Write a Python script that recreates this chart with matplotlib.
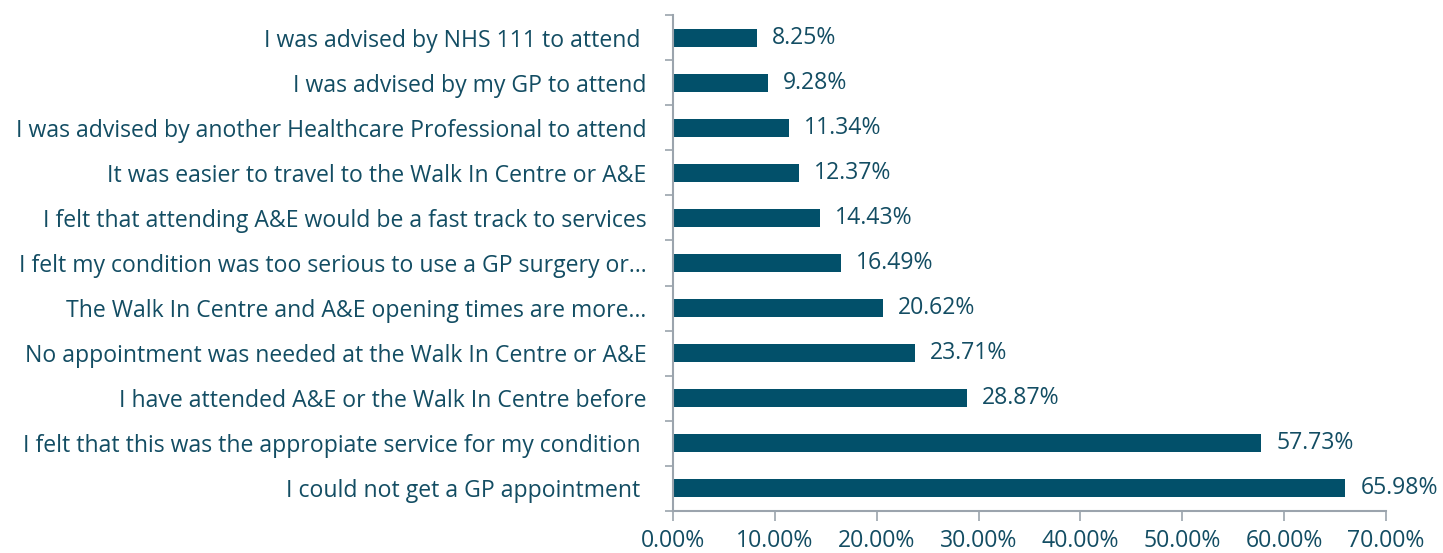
import matplotlib
matplotlib.use("Agg")
import matplotlib.pyplot as plt
import numpy as np
from matplotlib.ticker import FixedLocator, FuncFormatter

categories = [
    "I could not get a GP appointment ",
    "I felt that this was the appropiate service for my condition ",
    "I have attended A&E or the Walk In Centre before",
    "No appointment was needed at the Walk In Centre or A&E",
    "The Walk In Centre and A&E opening times are more\u2026",
    "I felt my condition was too serious to use a GP surgery or\u2026",
    "I felt that attending A&E would be a fast track to services",
    "It was easier to travel to the Walk In Centre or A&E",
    "I was advised by another Healthcare Professional to attend",
    "I was advised by my GP to attend",
    "I was advised by NHS 111 to attend ",
]
values = [65.98, 57.73, 28.87, 23.71, 20.62, 16.49, 14.43, 12.37, 11.34, 9.28, 8.25]
xticks = [0, 10, 20, 30, 40, 50, 60, 70]

bar_color = "#02506a"
text_color = "#134d63"
axis_color = "#9ba4ad"
fs = 16.6

plt.rcParams['font.family'] = ['Open Sans', 'DejaVu Sans']

fig = plt.figure(figsize=(14.43, 5.53), dpi=100)
ax = fig.add_axes([0.4664, 0.0760, 0.9605 - 0.4664, 0.9729 - 0.0760])

y = np.arange(len(categories))
ax.barh(y, values, height=0.4, color=bar_color)
ax.set_xlim(0, 70)
ax.set_ylim(-0.5, len(categories) - 0.5)

for yi, v in zip(y, values):
    ax.annotate(f"{v:.2f}%", xy=(v, yi), xytext=(11, 0), textcoords="offset points",
                va="center", ha="left", color=text_color, fontsize=fs)

ax.xaxis.set_major_locator(FixedLocator(xticks))
ax.xaxis.set_major_formatter(FuncFormatter(lambda x, p: f"{x:.2f}%"))
ax.yaxis.set_major_locator(FixedLocator(y))
ax.set_yticklabels(categories)
ax.yaxis.set_minor_locator(FixedLocator(np.arange(-0.5, len(categories), 1.0)))

ax.tick_params(axis='y', which='major', length=0, pad=19, labelcolor=text_color, labelsize=fs)
ax.tick_params(axis='y', which='minor', length=6, width=1.2, color=axis_color, direction='out')
ax.tick_params(axis='x', which='major', length=7, width=1.2, color=axis_color, direction='out',
               labelcolor=text_color, labelsize=fs, pad=6)

for s in ['top', 'right']:
    ax.spines[s].set_visible(False)
for s in ['left', 'bottom']:
    ax.spines[s].set_color(axis_color)
    ax.spines[s].set_linewidth(1.5)

fig.savefig("out.png", dpi=100)
